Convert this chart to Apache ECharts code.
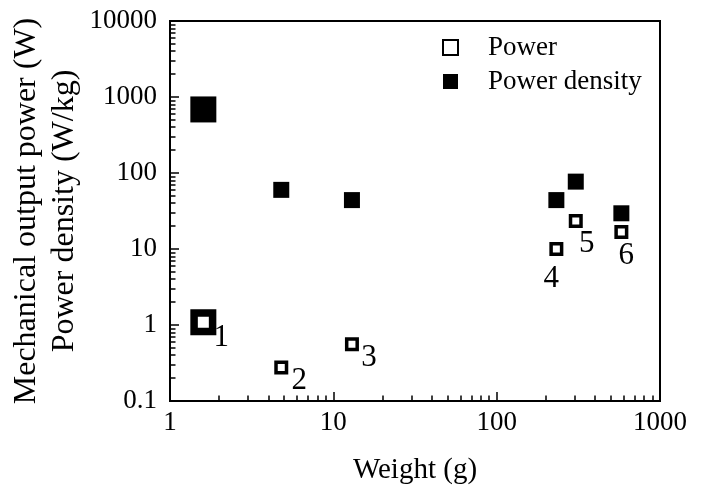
<!DOCTYPE html>
<html>
<head>
<meta charset="utf-8">
<script src="https://cdn.jsdelivr.net/npm/echarts@6/dist/echarts.min.js"></script>
<style>
  html, body { margin: 0; padding: 0; background: #fff; }
  #main { width: 701px; height: 493px; }
</style>
</head>
<body>
<div id="main"></div>
<script>
var myChart = echarts.init(document.getElementById('main'));

// data
var weights = [1.6, 4.8, 13, 232, 305, 580];
var power = [1.09, 0.275, 0.56, 10, 23.3, 16.8];
var powerDensity = [686, 60, 44, 44, 77, 29.5];
var pointNames = ['1', '2', '3', '4', '5', '6'];

var xTicks = [1, 10, 100, 1000];
var yTicks = [0.1, 1, 10, 100, 1000, 10000];

var font = '"Liberation Serif", "Times New Roman", serif';

// minor ticks 2..9 inside each decade
var minorTicks = function(lo, hi) {
    var res = [];
    for (var d = lo; d < hi; d *= 10) {
        for (var k = 2; k <= 9; k++) {
            res.push(+(k * d).toPrecision(6));
        }
    }
    return res;
};

// first point is drawn larger
var bigIdx = 0;
var labelOffsets = [[18, 16], [18, 13], [17, 14], [-5, 30], [11, 23], [5, 24]];

var powerData = [];
var densityData = [];
for (var i = 0; i < weights.length; i++) {
    var big = i === bigIdx;
    powerData.push({
        value: [weights[i], power[i]],
        symbolSize: big ? 18.5 : 10.5,
        itemStyle: { borderWidth: big ? 7.5 : 3.5 },
        label: {
            show: true,
            formatter: pointNames[i],
            position: 'inside',
            offset: labelOffsets[i]
        }
    });
    densityData.push({
        value: [weights[i], powerDensity[i]],
        symbolSize: big ? 26 : 16
    });
}

var plainLabel = function(v) { return String(v); };

// extra axis that only draws the minor ticks
var minorAxis = function(min, max, pos, values) {
    return {
        type: 'log', min: min, max: max, position: pos,
        axisLine: { show: false, onZero: false },
        axisTick: { show: true, inside: true, length: 5.5, lineStyle: { color: '#000', width: 1.5 }, customValues: values },
        axisLabel: { show: false },
        splitLine: { show: false }
    };
};

option = {
    animation: false,
    grid: {
        left: 170, right: 41, top: 21, bottom: 92,
        outerBoundsMode: 'none',
        show: true, borderColor: '#000', borderWidth: 2
    },
    legend: {
        orient: 'vertical',
        left: 437, top: 29,
        itemWidth: 15, itemHeight: 15,
        itemGap: 7,
        textStyle: { fontFamily: font, fontSize: 27, color: '#000', padding: [0, 0, 0, 25] },
        data: ['Power', 'Power density']
    },
    xAxis: [{
        type: 'log', min: 1, max: 1000,
        position: 'bottom',
        name: 'Weight (g)', nameLocation: 'middle', nameGap: 55,
        nameMoveOverlap: false,
        nameTextStyle: { fontFamily: font, fontSize: 29, color: '#000' },
        axisLine: { show: true, onZero: false, lineStyle: { color: '#000', width: 2 } },
        axisTick: { show: true, inside: true, length: 9, lineStyle: { color: '#000', width: 1.5 }, customValues: xTicks },
        axisLabel: { fontFamily: font, fontSize: 27, color: '#000', margin: 8, customValues: xTicks, formatter: plainLabel },
        splitLine: { show: false }
    },
        minorAxis(1, 1000, 'bottom', minorTicks(1, 1000))
    ],
    yAxis: [{
        type: 'log', min: 0.1, max: 10000,
        position: 'left',
        name: 'Mechanical output power (W)\nPower density (W/kg)',
        nameLocation: 'middle', nameRotate: 90, nameGap: 86,
        nameMoveOverlap: false,
        nameTextStyle: { fontFamily: font, fontSize: 32, color: '#000', lineHeight: 38 },
        axisLine: { show: true, onZero: false, lineStyle: { color: '#000', width: 2 } },
        axisTick: { show: true, inside: true, length: 9, lineStyle: { color: '#000', width: 1.5 }, customValues: yTicks },
        axisLabel: { fontFamily: font, fontSize: 27, color: '#000', margin: 13, customValues: yTicks, formatter: plainLabel },
        splitLine: { show: false }
    },
        minorAxis(0.1, 10000, 'left', minorTicks(0.1, 10000))
    ],
    series: [{
        name: 'Power',
        type: 'scatter',
        symbol: 'rect',
        data: powerData,
        itemStyle: { color: '#fff', borderColor: '#000', borderWidth: 3.5, opacity: 1 },
        label: { fontFamily: font, fontSize: 31, color: '#000' },
        z: 3
    }, {
        name: 'Power density',
        type: 'scatter',
        symbol: 'rect',
        data: densityData,
        itemStyle: { color: '#000', opacity: 1 },
        z: 2
    }]
};

myChart.setOption(option);
</script>
</body>
</html>
